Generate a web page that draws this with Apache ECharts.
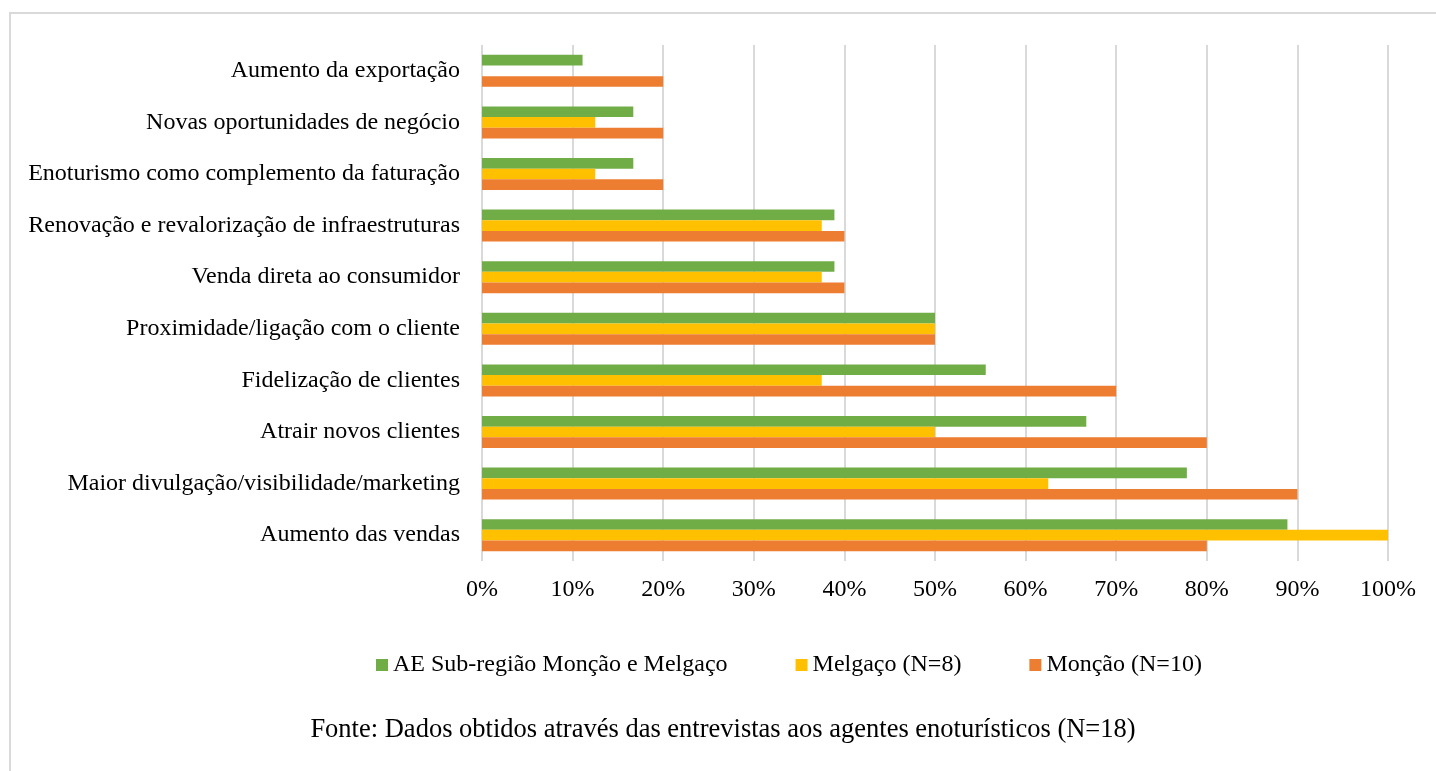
<!DOCTYPE html>
<html>
<head>
<meta charset="utf-8">
<title>Vantagens do enoturismo</title>
<script src="https://cdn.jsdelivr.net/npm/echarts@6/dist/echarts.min.js"></script>
<style>
  html, body { margin: 0; padding: 0; background: #ffffff; }
  #chart { width: 1436px; height: 771px; }
</style>
</head>
<body>
<div id="chart"></div>
<script>
// Categories listed bottom-up (category axis starts at the bottom)
const categories = [
  'Aumento das vendas',
  'Maior divulgação/visibilidade/marketing',
  'Atrair novos clientes',
  'Fidelização de clientes',
  'Proximidade/ligação com o cliente',
  'Venda direta ao consumidor',
  'Renovação e revalorização de infraestruturas',
  'Enoturismo como complemento da faturação',
  'Novas oportunidades de negócio',
  'Aumento da exportação'
];

// Percent of respondents per group, same order as categories
const subRegiao = [88.9, 77.8, 66.7, 55.6, 50, 38.9, 38.9, 16.7, 16.7, 11.1];
const melgaco   = [100, 62.5, 50, 37.5, 50, 37.5, 37.5, 12.5, 12.5, 0];
const moncao    = [80, 90, 80, 70, 50, 40, 40, 20, 20, 20];

const seriesNames = ['AE Sub-região Monção e Melgaço', 'Melgaço (N=8)', 'Monção (N=10)'];
const seriesColors = ['#70AD47', '#FFC000', '#ED7D31'];
const sourceNote = 'Fonte: Dados obtidos através das entrevistas aos agentes enoturísticos (N=18)';

const FONT = '"Liberation Serif", "Times New Roman", serif';
const FS = 24;

const chart = echarts.init(document.getElementById('chart'), null, { renderer: 'canvas' });

const seriesData = [subRegiao, melgaco, moncao];

chart.setOption({
  animation: false,
  backgroundColor: '#ffffff',
  textStyle: { fontFamily: FONT },
  grid: { left: 482, right: 48, top: 45, bottom: 210, containLabel: false },
  legend: {
    left: 371,
    top: 648,
    itemWidth: 12,
    itemHeight: 12,
    itemGap: 68,
    icon: 'rect',
    textStyle: { fontFamily: FONT, fontSize: FS, color: '#000000' },
    data: seriesNames
  },
  xAxis: {
    type: 'value',
    min: 0,
    max: 100,
    interval: 10,
    axisLine: { show: false },
    axisTick: { show: false },
    axisLabel: {
      formatter: '{value}%',
      margin: 17,
      fontFamily: FONT,
      fontSize: FS,
      color: '#000000'
    },
    splitLine: { show: true, lineStyle: { color: '#d9d9d9', width: 2 } }
  },
  yAxis: {
    type: 'category',
    data: categories,
    axisLine: { show: false },
    axisTick: { show: false },
    axisLabel: {
      margin: 22,
      fontFamily: FONT,
      fontSize: FS,
      color: '#000000'
    }
  },
  series: seriesNames.map((name, i) => ({
    name: name,
    type: 'bar',
    data: seriesData[i],
    barGap: '0%',
    barCategoryGap: '38%',
    itemStyle: { color: seriesColors[i] }
  })),
  graphic: [
    {
      type: 'rect',
      silent: true,
      shape: { x: 10, y: 13, width: 1600, height: 900 },
      style: { fill: 'none', stroke: '#d9d9d9', lineWidth: 2 }
    },
    {
      type: 'text',
      silent: true,
      x: 723,
      y: 730,
      style: {
        text: sourceNote,
        font: '26.5px ' + FONT,
        fill: '#000000',
        align: 'center',
        verticalAlign: 'middle'
      }
    }
  ]
});
</script>
</body>
</html>
